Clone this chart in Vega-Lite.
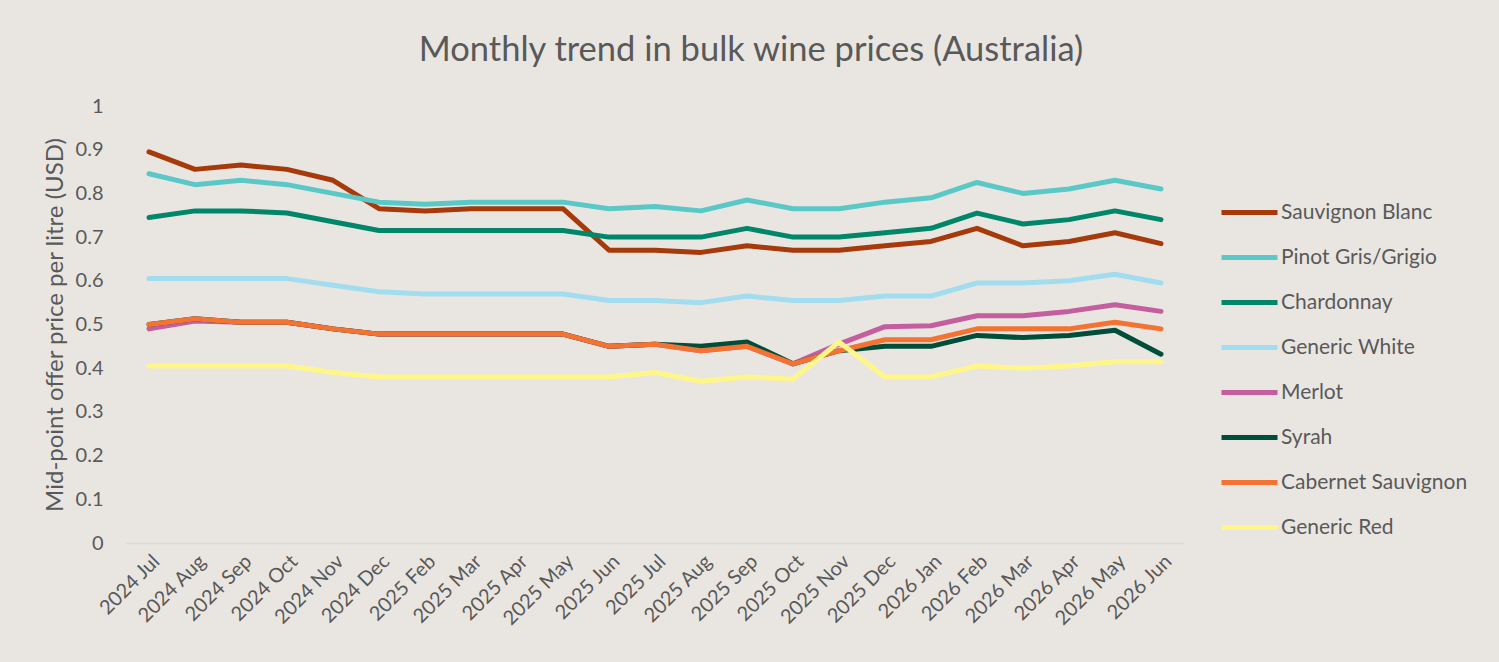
{
  "$schema": "https://vega.github.io/schema/vega-lite/v6.json",
  "width": 1058,
  "height": 437,
  "autosize": {"type": "none"},
  "padding": {"left": 126, "top": 106, "right": 315, "bottom": 119},
  "background": "#E9E6E2",
  "config": {
    "view": {"stroke": null},
    "font": "Lato",
    "axis": {"labelColor": "#595959", "titleColor": "#595959", "labelFont": "Lato", "titleFont": "Lato"},
    "legend": {"labelColor": "#595959", "labelFont": "Lato"}
  },
  "title": {
    "text": "Monthly trend in bulk wine prices (Australia)",
    "fontSize": 34.5,
    "font": "Lato",
    "fontWeight": "normal",
    "color": "#595959",
    "anchor": "middle",
    "frame": "group",
    "dx": 96,
    "baseline": "alphabetic",
    "offset": 1
  },
  "data": {
    "values": [
      {"m":"2024 Jul","v":"Sauvignon Blanc","p":0.895},{"m":"2024 Aug","v":"Sauvignon Blanc","p":0.855},{"m":"2024 Sep","v":"Sauvignon Blanc","p":0.865},{"m":"2024 Oct","v":"Sauvignon Blanc","p":0.855},{"m":"2024 Nov","v":"Sauvignon Blanc","p":0.83},{"m":"2024 Dec","v":"Sauvignon Blanc","p":0.765},{"m":"2025 Feb","v":"Sauvignon Blanc","p":0.76},{"m":"2025 Mar","v":"Sauvignon Blanc","p":0.765},{"m":"2025 Apr","v":"Sauvignon Blanc","p":0.765},{"m":"2025 May","v":"Sauvignon Blanc","p":0.765},{"m":"2025 Jun","v":"Sauvignon Blanc","p":0.67},{"m":"2025 Jul","v":"Sauvignon Blanc","p":0.67},{"m":"2025 Aug","v":"Sauvignon Blanc","p":0.665},{"m":"2025 Sep","v":"Sauvignon Blanc","p":0.68},{"m":"2025 Oct","v":"Sauvignon Blanc","p":0.67},{"m":"2025 Nov","v":"Sauvignon Blanc","p":0.67},{"m":"2025 Dec","v":"Sauvignon Blanc","p":0.68},{"m":"2026 Jan","v":"Sauvignon Blanc","p":0.69},{"m":"2026 Feb","v":"Sauvignon Blanc","p":0.72},{"m":"2026 Mar","v":"Sauvignon Blanc","p":0.68},{"m":"2026 Apr","v":"Sauvignon Blanc","p":0.69},{"m":"2026 May","v":"Sauvignon Blanc","p":0.71},{"m":"2026 Jun","v":"Sauvignon Blanc","p":0.685},
      {"m":"2024 Jul","v":"Pinot Gris/Grigio","p":0.845},{"m":"2024 Aug","v":"Pinot Gris/Grigio","p":0.82},{"m":"2024 Sep","v":"Pinot Gris/Grigio","p":0.83},{"m":"2024 Oct","v":"Pinot Gris/Grigio","p":0.82},{"m":"2024 Nov","v":"Pinot Gris/Grigio","p":0.8},{"m":"2024 Dec","v":"Pinot Gris/Grigio","p":0.78},{"m":"2025 Feb","v":"Pinot Gris/Grigio","p":0.775},{"m":"2025 Mar","v":"Pinot Gris/Grigio","p":0.78},{"m":"2025 Apr","v":"Pinot Gris/Grigio","p":0.78},{"m":"2025 May","v":"Pinot Gris/Grigio","p":0.78},{"m":"2025 Jun","v":"Pinot Gris/Grigio","p":0.765},{"m":"2025 Jul","v":"Pinot Gris/Grigio","p":0.77},{"m":"2025 Aug","v":"Pinot Gris/Grigio","p":0.76},{"m":"2025 Sep","v":"Pinot Gris/Grigio","p":0.785},{"m":"2025 Oct","v":"Pinot Gris/Grigio","p":0.765},{"m":"2025 Nov","v":"Pinot Gris/Grigio","p":0.765},{"m":"2025 Dec","v":"Pinot Gris/Grigio","p":0.78},{"m":"2026 Jan","v":"Pinot Gris/Grigio","p":0.79},{"m":"2026 Feb","v":"Pinot Gris/Grigio","p":0.825},{"m":"2026 Mar","v":"Pinot Gris/Grigio","p":0.8},{"m":"2026 Apr","v":"Pinot Gris/Grigio","p":0.81},{"m":"2026 May","v":"Pinot Gris/Grigio","p":0.83},{"m":"2026 Jun","v":"Pinot Gris/Grigio","p":0.81},
      {"m":"2024 Jul","v":"Chardonnay","p":0.745},{"m":"2024 Aug","v":"Chardonnay","p":0.76},{"m":"2024 Sep","v":"Chardonnay","p":0.76},{"m":"2024 Oct","v":"Chardonnay","p":0.755},{"m":"2024 Nov","v":"Chardonnay","p":0.735},{"m":"2024 Dec","v":"Chardonnay","p":0.715},{"m":"2025 Feb","v":"Chardonnay","p":0.715},{"m":"2025 Mar","v":"Chardonnay","p":0.715},{"m":"2025 Apr","v":"Chardonnay","p":0.715},{"m":"2025 May","v":"Chardonnay","p":0.715},{"m":"2025 Jun","v":"Chardonnay","p":0.7},{"m":"2025 Jul","v":"Chardonnay","p":0.7},{"m":"2025 Aug","v":"Chardonnay","p":0.7},{"m":"2025 Sep","v":"Chardonnay","p":0.72},{"m":"2025 Oct","v":"Chardonnay","p":0.7},{"m":"2025 Nov","v":"Chardonnay","p":0.7},{"m":"2025 Dec","v":"Chardonnay","p":0.71},{"m":"2026 Jan","v":"Chardonnay","p":0.72},{"m":"2026 Feb","v":"Chardonnay","p":0.755},{"m":"2026 Mar","v":"Chardonnay","p":0.73},{"m":"2026 Apr","v":"Chardonnay","p":0.74},{"m":"2026 May","v":"Chardonnay","p":0.76},{"m":"2026 Jun","v":"Chardonnay","p":0.74},
      {"m":"2024 Jul","v":"Generic White","p":0.605},{"m":"2024 Aug","v":"Generic White","p":0.605},{"m":"2024 Sep","v":"Generic White","p":0.605},{"m":"2024 Oct","v":"Generic White","p":0.605},{"m":"2024 Nov","v":"Generic White","p":0.59},{"m":"2024 Dec","v":"Generic White","p":0.575},{"m":"2025 Feb","v":"Generic White","p":0.57},{"m":"2025 Mar","v":"Generic White","p":0.57},{"m":"2025 Apr","v":"Generic White","p":0.57},{"m":"2025 May","v":"Generic White","p":0.57},{"m":"2025 Jun","v":"Generic White","p":0.555},{"m":"2025 Jul","v":"Generic White","p":0.555},{"m":"2025 Aug","v":"Generic White","p":0.55},{"m":"2025 Sep","v":"Generic White","p":0.565},{"m":"2025 Oct","v":"Generic White","p":0.555},{"m":"2025 Nov","v":"Generic White","p":0.555},{"m":"2025 Dec","v":"Generic White","p":0.565},{"m":"2026 Jan","v":"Generic White","p":0.565},{"m":"2026 Feb","v":"Generic White","p":0.595},{"m":"2026 Mar","v":"Generic White","p":0.595},{"m":"2026 Apr","v":"Generic White","p":0.6},{"m":"2026 May","v":"Generic White","p":0.615},{"m":"2026 Jun","v":"Generic White","p":0.595},
      {"m":"2024 Jul","v":"Merlot","p":0.49},{"m":"2024 Aug","v":"Merlot","p":0.508},{"m":"2024 Sep","v":"Merlot","p":0.505},{"m":"2024 Oct","v":"Merlot","p":0.505},{"m":"2024 Nov","v":"Merlot","p":0.49},{"m":"2024 Dec","v":"Merlot","p":0.478},{"m":"2025 Feb","v":"Merlot","p":0.478},{"m":"2025 Mar","v":"Merlot","p":0.478},{"m":"2025 Apr","v":"Merlot","p":0.478},{"m":"2025 May","v":"Merlot","p":0.478},{"m":"2025 Jun","v":"Merlot","p":0.45},{"m":"2025 Jul","v":"Merlot","p":0.455},{"m":"2025 Aug","v":"Merlot","p":0.44},{"m":"2025 Sep","v":"Merlot","p":0.45},{"m":"2025 Oct","v":"Merlot","p":0.41},{"m":"2025 Nov","v":"Merlot","p":0.455},{"m":"2025 Dec","v":"Merlot","p":0.495},{"m":"2026 Jan","v":"Merlot","p":0.497},{"m":"2026 Feb","v":"Merlot","p":0.52},{"m":"2026 Mar","v":"Merlot","p":0.52},{"m":"2026 Apr","v":"Merlot","p":0.53},{"m":"2026 May","v":"Merlot","p":0.545},{"m":"2026 Jun","v":"Merlot","p":0.53},
      {"m":"2024 Jul","v":"Syrah","p":0.5},{"m":"2024 Aug","v":"Syrah","p":0.513},{"m":"2024 Sep","v":"Syrah","p":0.505},{"m":"2024 Oct","v":"Syrah","p":0.505},{"m":"2024 Nov","v":"Syrah","p":0.49},{"m":"2024 Dec","v":"Syrah","p":0.478},{"m":"2025 Feb","v":"Syrah","p":0.478},{"m":"2025 Mar","v":"Syrah","p":0.478},{"m":"2025 Apr","v":"Syrah","p":0.478},{"m":"2025 May","v":"Syrah","p":0.478},{"m":"2025 Jun","v":"Syrah","p":0.45},{"m":"2025 Jul","v":"Syrah","p":0.455},{"m":"2025 Aug","v":"Syrah","p":0.45},{"m":"2025 Sep","v":"Syrah","p":0.46},{"m":"2025 Oct","v":"Syrah","p":0.41},{"m":"2025 Nov","v":"Syrah","p":0.44},{"m":"2025 Dec","v":"Syrah","p":0.45},{"m":"2026 Jan","v":"Syrah","p":0.45},{"m":"2026 Feb","v":"Syrah","p":0.475},{"m":"2026 Mar","v":"Syrah","p":0.47},{"m":"2026 Apr","v":"Syrah","p":0.475},{"m":"2026 May","v":"Syrah","p":0.487},{"m":"2026 Jun","v":"Syrah","p":0.432},
      {"m":"2024 Jul","v":"Cabernet Sauvignon","p":0.5},{"m":"2024 Aug","v":"Cabernet Sauvignon","p":0.513},{"m":"2024 Sep","v":"Cabernet Sauvignon","p":0.505},{"m":"2024 Oct","v":"Cabernet Sauvignon","p":0.505},{"m":"2024 Nov","v":"Cabernet Sauvignon","p":0.49},{"m":"2024 Dec","v":"Cabernet Sauvignon","p":0.478},{"m":"2025 Feb","v":"Cabernet Sauvignon","p":0.478},{"m":"2025 Mar","v":"Cabernet Sauvignon","p":0.478},{"m":"2025 Apr","v":"Cabernet Sauvignon","p":0.478},{"m":"2025 May","v":"Cabernet Sauvignon","p":0.478},{"m":"2025 Jun","v":"Cabernet Sauvignon","p":0.45},{"m":"2025 Jul","v":"Cabernet Sauvignon","p":0.455},{"m":"2025 Aug","v":"Cabernet Sauvignon","p":0.44},{"m":"2025 Sep","v":"Cabernet Sauvignon","p":0.45},{"m":"2025 Oct","v":"Cabernet Sauvignon","p":0.41},{"m":"2025 Nov","v":"Cabernet Sauvignon","p":0.44},{"m":"2025 Dec","v":"Cabernet Sauvignon","p":0.465},{"m":"2026 Jan","v":"Cabernet Sauvignon","p":0.465},{"m":"2026 Feb","v":"Cabernet Sauvignon","p":0.49},{"m":"2026 Mar","v":"Cabernet Sauvignon","p":0.49},{"m":"2026 Apr","v":"Cabernet Sauvignon","p":0.49},{"m":"2026 May","v":"Cabernet Sauvignon","p":0.505},{"m":"2026 Jun","v":"Cabernet Sauvignon","p":0.49},
      {"m":"2024 Jul","v":"Generic Red","p":0.405},{"m":"2024 Aug","v":"Generic Red","p":0.405},{"m":"2024 Sep","v":"Generic Red","p":0.405},{"m":"2024 Oct","v":"Generic Red","p":0.405},{"m":"2024 Nov","v":"Generic Red","p":0.39},{"m":"2024 Dec","v":"Generic Red","p":0.38},{"m":"2025 Feb","v":"Generic Red","p":0.38},{"m":"2025 Mar","v":"Generic Red","p":0.38},{"m":"2025 Apr","v":"Generic Red","p":0.38},{"m":"2025 May","v":"Generic Red","p":0.38},{"m":"2025 Jun","v":"Generic Red","p":0.38},{"m":"2025 Jul","v":"Generic Red","p":0.39},{"m":"2025 Aug","v":"Generic Red","p":0.37},{"m":"2025 Sep","v":"Generic Red","p":0.38},{"m":"2025 Oct","v":"Generic Red","p":0.375},{"m":"2025 Nov","v":"Generic Red","p":0.46},{"m":"2025 Dec","v":"Generic Red","p":0.38},{"m":"2026 Jan","v":"Generic Red","p":0.38},{"m":"2026 Feb","v":"Generic Red","p":0.405},{"m":"2026 Mar","v":"Generic Red","p":0.4},{"m":"2026 Apr","v":"Generic Red","p":0.405},{"m":"2026 May","v":"Generic Red","p":0.415},{"m":"2026 Jun","v":"Generic Red","p":0.415}
    ]
  },
  "mark": {"type": "line", "strokeWidth": 5, "strokeCap": "round", "strokeJoin": "round"},
  "encoding": {
    "x": {
      "field": "m",
      "type": "ordinal",
      "sort": null,
      "scale": {"paddingInner": 1, "paddingOuter": 0.5},
      "axis": {
        "title": null,
        "labelAngle": -45,
        "labelFontSize": 20,
        "labelPadding": 8,
        "ticks": false,
        "domainColor": "#D9D9D9",
        "domainWidth": 1.5,
        "grid": false
      }
    },
    "y": {
      "field": "p",
      "type": "quantitative",
      "scale": {"domain": [0, 1], "nice": false},
      "axis": {
        "title": "Mid-point offer price per litre (USD)",
        "titleFontSize": 24,
        "titleFontWeight": "normal",
        "titlePadding": 8,
        "values": [0, 0.1, 0.2, 0.3, 0.4, 0.5, 0.6, 0.7, 0.8, 0.9, 1],
        "format": "~g",
        "labelFontSize": 20,
        "labelPadding": 23,
        "ticks": false,
        "domain": false,
        "grid": false
      }
    },
    "color": {
      "field": "v",
      "type": "nominal",
      "sort": null,
      "scale": {
        "domain": ["Sauvignon Blanc", "Pinot Gris/Grigio", "Chardonnay", "Generic White", "Merlot", "Syrah", "Cabernet Sauvignon", "Generic Red"],
        "range": ["#A63A0A", "#5BC8C8", "#00876A", "#A2DCEF", "#C55E9E", "#004D3A", "#F47332", "#FFF68A"]
      },
      "legend": {
        "title": null,
        "orient": "none",
        "legendX": 1093,
        "legendY": 76,
        "symbolType": "stroke",
        "symbolSize": 3136,
        "symbolStrokeWidth": 5,
        "labelFontSize": 21,
        "labelOffset": 1,
        "labelLimit": 300,
        "rowPadding": 4
      }
    }
  }
}
